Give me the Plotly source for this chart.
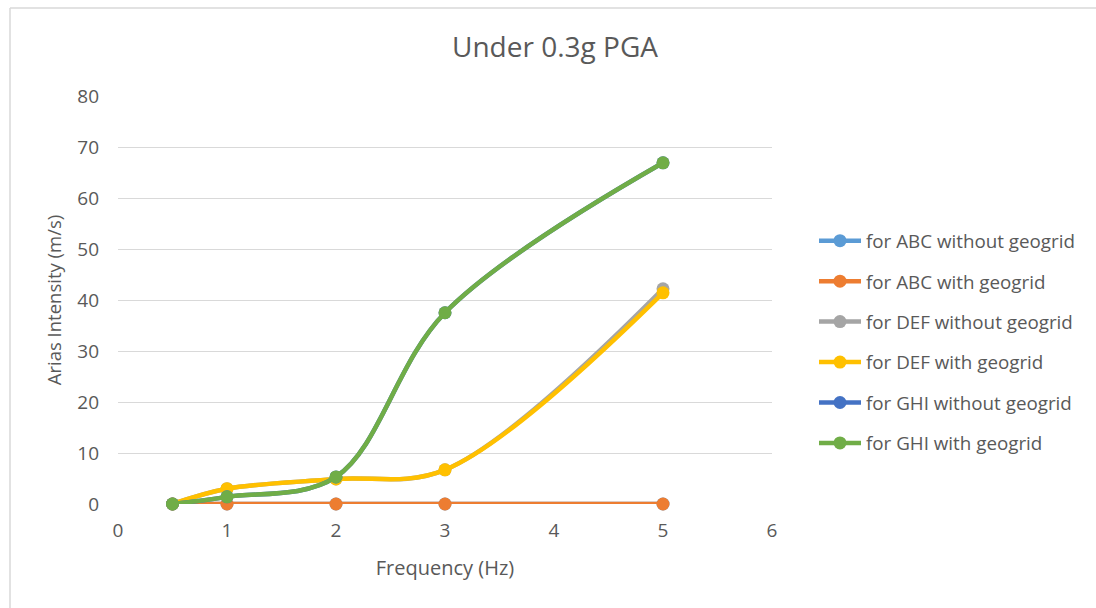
import plotly.graph_objects as go

freq = [0.5, 1, 2, 3, 5]
abc_without = [0, 0, 0, 0, 0]
abc_with = [0, 0, 0, 0, 0]
def_without = [0, 3.0, 4.9, 6.7, 42.2]
def_with = [0, 3.0, 4.9, 6.7, 41.4]
ghi_without = [0, 1.4, 5.3, 37.5, 66.9]
ghi_with = [0, 1.4, 5.3, 37.5, 66.9]

series_names = [
    "for ABC without geogrid",
    "for ABC with geogrid",
    "for DEF without geogrid",
    "for DEF with geogrid",
    "for GHI without geogrid",
    "for GHI with geogrid",
]
series_values = [abc_without, abc_with, def_without, def_with, ghi_without, ghi_with]
colors = ["#5B9BD5", "#ED7D31", "#A5A5A5", "#FFC000", "#4472C4", "#70AD47"]

x_ticks = [0, 1, 2, 3, 4, 5, 6]
y_ticks = [0, 10, 20, 30, 40, 50, 60, 70, 80]

fig = go.Figure()
for i, (name, vals, c) in enumerate(zip(series_names, series_values, colors)):
    fig.add_trace(go.Scatter(
        x=freq, y=vals, name=name, mode="lines+markers", legendgroup=f"g{i}",
        line=dict(color=c, width=4.5, shape="spline", smoothing=1.0),
        marker=dict(color=c, size=13), cliponaxis=False,
    ))

FONT = "Open Sans"
GREY = "#595959"

L, R, T, B = 118, 324, 96, 104
W, H = 1096, 608
pw, ph = W - L - R, H - T - B

def px_x(p):
    return (p - L) / pw

def px_y(p):
    return (H - B - p) / ph

fig.update_layout(
    width=W, height=H,
    margin=dict(l=L, r=R, t=T, b=B),
    paper_bgcolor="white", plot_bgcolor="white",
    font=dict(family=FONT, color=GREY, size=18),
    showlegend=True,
    legend=dict(
        x=px_x(814), y=px_y(222), xanchor="left", yanchor="top",
        font=dict(family=FONT, size=18.8, color=GREY),
        tracegroupgap=13, itemwidth=42,
        bgcolor="rgba(0,0,0,0)",
    ),
    title=dict(
        text="Under 0.3g PGA", x=555 / W, xanchor="center",
        y=1 - 47 / H, yanchor="middle",
        font=dict(family=FONT, size=28, color=GREY),
    ),
    xaxis=dict(
        range=[0, 6], tickvals=x_ticks, showgrid=False, zeroline=False,
        showline=False, ticks="", tickfont=dict(size=19, color=GREY),
        ticklabelstandoff=13,
        title=dict(text="Frequency (Hz)", font=dict(size=20, color=GREY), standoff=18),
    ),
    yaxis=dict(
        range=[0, 80], tickvals=y_ticks, showgrid=True, gridcolor="#D9D9D9",
        gridwidth=1, zeroline=False, showline=False, ticks="",
        tickfont=dict(size=19, color=GREY), ticklabelstandoff=18,
        title=dict(text="Arias Intensity (m/s)", font=dict(size=18.5, color=GREY), standoff=10),
    ),
    shapes=[
        dict(type="line", xref="paper", yref="paper",
             x0=px_x(10), x1=px_x(10), y0=px_y(8), y1=px_y(620),
             line=dict(color="#D9D9D9", width=1.5)),
        dict(type="line", xref="paper", yref="paper",
             x0=px_x(10), x1=px_x(1110), y0=px_y(8), y1=px_y(8),
             line=dict(color="#D9D9D9", width=1.5)),
    ],
)

fig.write_html("out.html")
